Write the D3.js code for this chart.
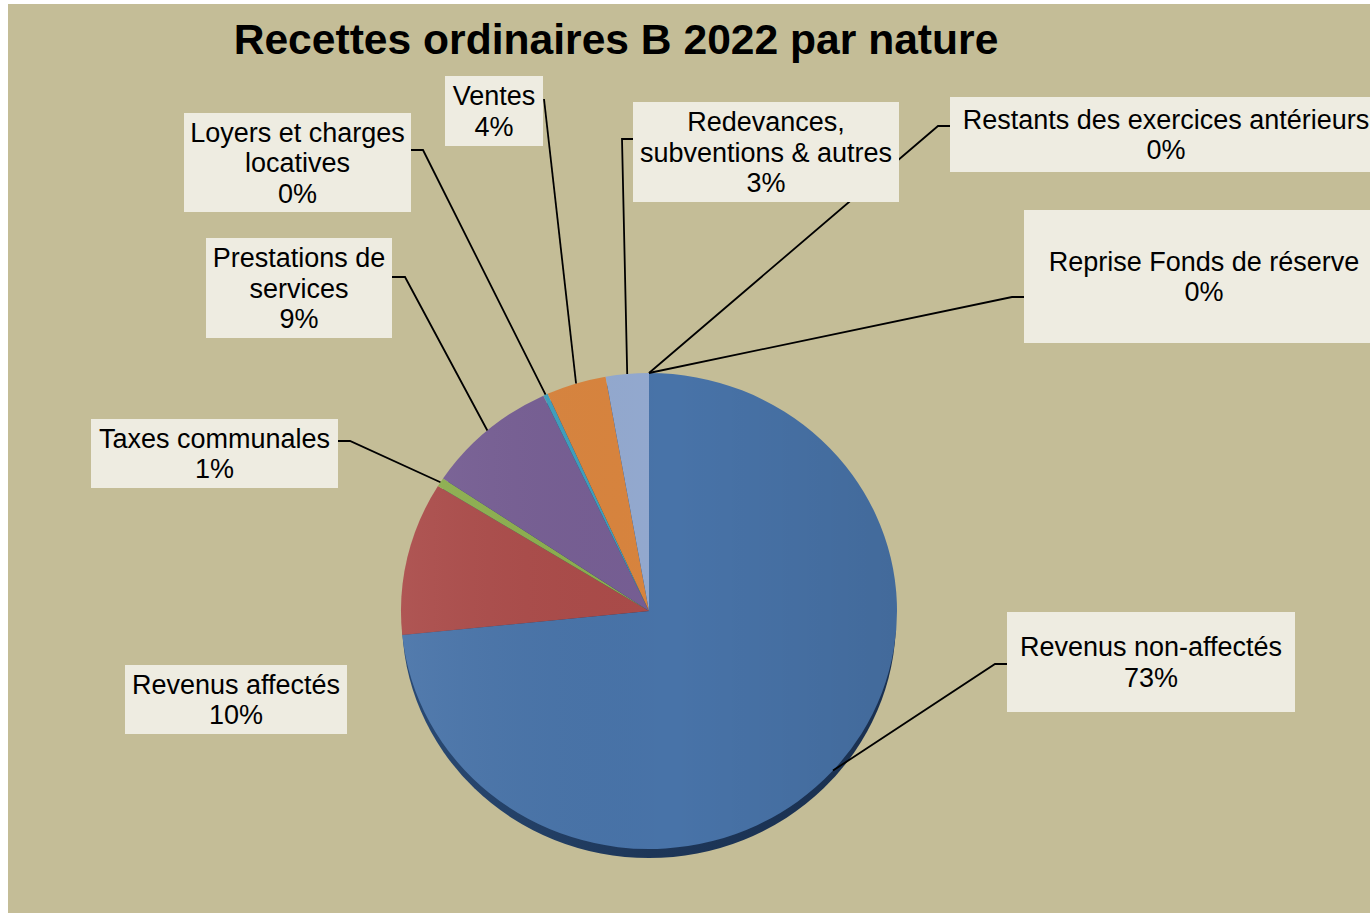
<!DOCTYPE html>
<html>
<head>
<meta charset="utf-8">
<script src="https://cdn.jsdelivr.net/npm/d3@7"></script>
<style>
  html, body { margin: 0; padding: 0; background: #ffffff; }
  svg { display: block; font-family: "Liberation Sans", Arial, sans-serif; }
</style>
</head>
<body>
<svg id="chart" width="1370" height="913"></svg>
<script>
// ---- data ----
const title = "Recettes ordinaires B 2022 par nature";
const categories = [
  "Revenus non-affectés",
  "Revenus affectés",
  "Taxes communales",
  "Prestations de\nservices",
  "Loyers et charges\nlocatives",
  "Ventes",
  "Redevances,\nsubventions & autres",
  "Restants des exercices antérieurs",
  "Reprise Fonds de réserve"
];
const values = [73.4, 10.4, 0.6, 8.6, 0.3, 3.9, 2.8, 0, 0];
const colors = ["#4873a8", "#aa4b49", "#8cae4e", "#765e93", "#3f9fbd", "#d8843e", "#93a9cf", "#2c4d86", "#b04e4c"];

// ---- layout (label boxes; leader: start point on box edge, elbow x) ----
const layout = [
  { x: 1007, y: 612, w: 288, h: 100, sx: 1007, sy: 664, ex: 995 },
  { x: 125,  y: 665, w: 222, h: 69,  leader: false },
  { x: 91,   y: 419, w: 247, h: 69,  sx: 338, sy: 441, ex: 350 },
  { x: 206,  y: 238, w: 186, h: 100, sx: 392, sy: 277, ex: 405 },
  { x: 184,  y: 113, w: 227, h: 99,  sx: 411, sy: 150, ex: 423 },
  { x: 445,  y: 76,  w: 98,  h: 70,  sx: 544, sy: 99,  ex: 544 },
  { x: 633,  y: 102, w: 266, h: 100, sx: 633, sy: 139, ex: 622 },
  { x: 950,  y: 97,  w: 432, h: 75,  sx: 950, sy: 126, ex: 938 },
  { x: 1024, y: 210, w: 360, h: 133, sx: 1024, sy: 297, ex: 1012 }
];

const W = 1370, H = 913;
const cx = 649, cy = 611, rx = 248, ry = 238, depth = 9;
const fontSize = 27, lineH = 30.5;

const svg = d3.select("#chart");
const defs = svg.append("defs");

// background
svg.append("rect").attr("x", 8).attr("y", 4).attr("width", W - 8).attr("height", H - 4).attr("fill", "#c4bd97");

// title
svg.append("text")
  .attr("x", 616).attr("y", 54)
  .attr("text-anchor", "middle")
  .attr("font-size", 42.6).attr("font-weight", "bold")
  .attr("fill", "#000")
  .text(title);

// gradients
const sideGrad = defs.append("linearGradient").attr("id", "sideGrad").attr("x1", 0).attr("x2", 1).attr("y1", 0).attr("y2", 0);
sideGrad.append("stop").attr("offset", "0%").attr("stop-color", "#2a4a74");
sideGrad.append("stop").attr("offset", "50%").attr("stop-color", "#1d3658");
sideGrad.append("stop").attr("offset", "100%").attr("stop-color", "#1a3050");

const shade = defs.append("linearGradient").attr("id", "shade").attr("x1", 0).attr("x2", 1).attr("y1", 0).attr("y2", 0);
shade.append("stop").attr("offset", "0%").attr("stop-color", "#ffffff").attr("stop-opacity", 0.06);
shade.append("stop").attr("offset", "55%").attr("stop-color", "#000000").attr("stop-opacity", 0.0);
shade.append("stop").attr("offset", "100%").attr("stop-color", "#000000").attr("stop-opacity", 0.08);

// pie
const pie = d3.pie().sort(null).value(d => d).startAngle(0).endAngle(2 * Math.PI);
const arcs = pie(values);
const arc = d3.arc().innerRadius(0).outerRadius(rx);
const k = ry / rx;

// 3D side (depth)
svg.append("ellipse")
  .attr("cx", cx).attr("cy", cy + depth)
  .attr("rx", rx - 1).attr("ry", ry)
  .attr("fill", "url(#sideGrad)");

const g = svg.append("g").attr("transform", `translate(${cx},${cy}) scale(1,${k})`);
g.selectAll("path.slice")
  .data(arcs)
  .join("path")
  .attr("class", "slice")
  .attr("d", arc)
  .attr("fill", (d, i) => colors[i]);

// shading overlay
svg.append("ellipse")
  .attr("cx", cx).attr("cy", cy)
  .attr("rx", rx).attr("ry", ry)
  .attr("fill", "url(#shade)");

// leader lines (drawn beneath label boxes)
function rimPoint(d) {
  const a = (d.startAngle + d.endAngle) / 2;
  return [cx + rx * Math.sin(a), cy - ry * Math.cos(a)];
}
const leaders = svg.append("g");
arcs.forEach((d, i) => {
  const L = layout[i];
  if (L.leader === false) return;
  const [tx, ty] = rimPoint(d);
  leaders.append("path")
    .attr("d", d3.line()([[L.sx, L.sy], [L.ex, L.sy], [tx, ty]]))
    .attr("fill", "none")
    .attr("stroke", "#000")
    .attr("stroke-width", 1.8);
});

// label boxes
const total = d3.sum(values);
const labels = svg.append("g");
arcs.forEach((d, i) => {
  const L = layout[i];
  const lines = categories[i].split("\n").concat([Math.round(values[i] / total * 100) + "%"]);
  labels.append("rect")
    .attr("x", L.x).attr("y", L.y).attr("width", L.w).attr("height", L.h)
    .attr("fill", "#eeece1");
  const mx = L.x + L.w / 2;
  const my = L.y + L.h / 2;
  const y0 = my - (lines.length - 1) * lineH / 2 + 9.5;
  const t = labels.append("text")
    .attr("text-anchor", "middle")
    .attr("font-size", fontSize)
    .attr("fill", "#000");
  lines.forEach((ln, j) => {
    t.append("tspan").attr("x", mx).attr("y", y0 + j * lineH).text(ln);
  });
});
</script>
</body>
</html>
